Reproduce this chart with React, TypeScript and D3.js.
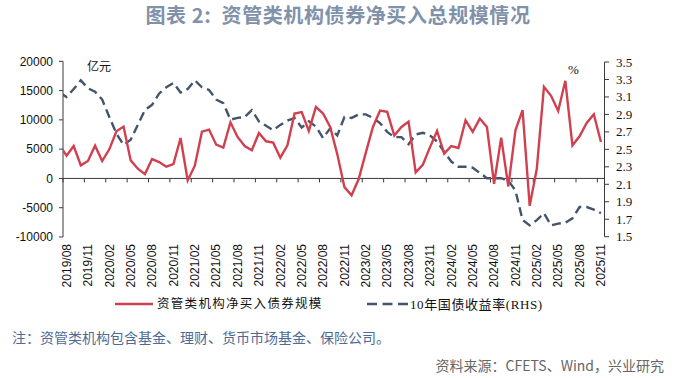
import React from 'react';
import * as d3 from 'd3';

// Monthly categories (first month lies just left of the axis and is clipped, as in the source)
const months: string[] = [
  '2019/07','2019/08','2019/09','2019/10','2019/11','2019/12',
  '2020/01','2020/02','2020/03','2020/04','2020/05','2020/06','2020/07','2020/08','2020/09','2020/10','2020/11','2020/12',
  '2021/01','2021/02','2021/03','2021/04','2021/05','2021/06','2021/07','2021/08','2021/09','2021/10','2021/11','2021/12',
  '2022/01','2022/02','2022/03','2022/04','2022/05','2022/06','2022/07','2022/08','2022/09','2022/10','2022/11','2022/12',
  '2023/01','2023/02','2023/03','2023/04','2023/05','2023/06','2023/07','2023/08','2023/09','2023/10','2023/11','2023/12',
  '2024/01','2024/02','2024/03','2024/04','2024/05','2024/06','2024/07','2024/08','2024/09','2024/10','2024/11','2024/12',
  '2025/01','2025/02','2025/03','2025/04','2025/05','2025/06','2025/07','2025/08','2025/09','2025/10','2025/11'
];

// 资管类机构净买入债券规模 (亿元)
const netBuy: number[] = [
  5700, 3900, 5540, 2230, 2970, 5600,
  2970, 4970, 8050, 8850, 3080, 1660, 740, 3310, 2800, 2000, 2450, 6910,
  -340, 2170, 7990, 8340, 5770, 5250, 9590, 7080, 5540, 4800, 7770, 6340,
  6110, 3540, 5650, 11080, 11310, 8110, 12220, 11080, 8790, 4110, -1490, -2860,
  -110, 4400, 8790, 11590, 11360, 7310, 8790, 9710, 1030, 2340, 5310, 8110,
  4230, 5540, 5200, 9940, 7940, 10220, 8790, -910, 6970, -1370, 8220, 11650,
  -4680, 1660, 15650, 14100, 11530, 16670, 5650, 7200, 9480, 10960, 6220
];

// 10年国债收益率 (%)
const yield10y: number[] = [
  3.15, 3.10, 3.19, 3.29, 3.20, 3.16,
  3.07, 2.87, 2.68, 2.55, 2.61, 2.78, 2.95, 3.01, 3.14, 3.21, 3.26, 3.15,
  3.19, 3.29, 3.21, 3.18, 3.07, 3.03, 2.84, 2.86, 2.87, 2.95, 2.82, 2.77,
  2.72, 2.78, 2.83, 2.86, 2.75, 2.82, 2.76, 2.63, 2.74, 2.66, 2.87, 2.86,
  2.90, 2.90, 2.86, 2.80, 2.70, 2.64, 2.64, 2.56, 2.67, 2.69, 2.66, 2.59,
  2.47, 2.36, 2.30, 2.30, 2.29, 2.23, 2.17, 2.17, 2.17, 2.14, 2.03, 1.69,
  1.63, 1.69, 1.77, 1.63, 1.65, 1.66, 1.71, 1.84, 1.84, 1.81, 1.77
];

const leftTicks: number[] = [-10000, -5000, 0, 5000, 10000, 15000, 20000];
const rightTicks: number[] = [1.5, 1.7, 1.9, 2.1, 2.3, 2.5, 2.7, 2.9, 3.1, 3.3, 3.5];
const tickLabels: string[] = [
  '2019/08','2019/11','2020/02','2020/05','2020/08','2020/11','2021/02','2021/05','2021/08','2021/11',
  '2022/02','2022/05','2022/08','2022/11','2023/02','2023/05','2023/08','2023/11',
  '2024/02','2024/05','2024/08','2024/11','2025/02','2025/05','2025/08','2025/11'
];

const title = '图表 2:  资管类机构债券净买入总规模情况';
const legendRed = '资管类机构净买入债券规模';
const legendBlue = '10年国债收益率(RHS)';
const note = '注：资管类机构包含基金、理财、货币市场基金、保险公司。';
const source = '资料来源：CFETS、Wind，兴业研究';

const RED = '#d1404f';
const BLUE = '#44546a';
const AXIS = '#3a3a3a';

export default function App() {
  const W = 676, H = 378;
  const left = 63, right = 604.5, top = 61.3, bottom = 237;
  const w = (right - left) / (months.length - 1);
  const x = d3.scaleBand<string>().domain(months).range([left - w, right]).padding(0);
  const cx = (m: string) => (x(m) as number) + x.bandwidth() / 2;
  const yL = d3.scaleLinear().domain([-10000, 20000]).range([bottom, top]);
  const yR = d3.scaleLinear().domain([1.5, 3.5]).range([236.7, 62]);

  const redPath = d3.line<number>().x((_, i) => cx(months[i])).y((d) => yL(d))(netBuy) || '';
  const bluePath = d3.line<number>().x((_, i) => cx(months[i])).y((d) => yR(d))(yield10y) || '';

  const y0 = yL(0);
  const tickXs = months
    .map((m, i) => ({ m, i }))
    .filter(({ i }) => i >= 1 && (i - 1) % 3 === 0)
    .map(({ m }) => x(m) as number);

  const cjk = '"Noto Sans CJK SC", sans-serif';

  return (
    <svg width={W} height={H} style={{ position: 'absolute', left: 0, top: 0, background: '#fff' }}>
      <defs>
        <clipPath id="plotClip">
          <rect x={left} y={40} width={right - left + 6} height={220} />
        </clipPath>
      </defs>
      <text x={338} y={23} textAnchor="middle" fontFamily={cjk} fontWeight="bold" fontSize={20} letterSpacing={0.6}
        fill="#8091aa" style={{ whiteSpace: 'pre' }}>
        {title}
      </text>

      {/* left axis */}
      <line x1={left} x2={left} y1={top} y2={bottom} stroke={AXIS} strokeWidth={1} />
      {leftTicks.map((t) => (
        <g key={'l' + t}>
          <line x1={left - 4} x2={left} y1={yL(t)} y2={yL(t)} stroke={AXIS} />
          <text x={53} y={yL(t)} dy="0.35em" textAnchor="end" fontFamily="'Liberation Sans', Arial, sans-serif" fontSize={12} fill="#111">
            {t}
          </text>
        </g>
      ))}
      <text x={87} y={67} dy="0.35em" fontFamily={cjk} fontSize={12} fill="#111">亿元</text>

      {/* right axis */}
      <line x1={right} x2={right} y1={yR(3.5)} y2={yR(1.5)} stroke={AXIS} strokeWidth={1} />
      {rightTicks.map((t) => (
        <g key={'r' + t}>
          <line x1={right} x2={right + 4.5} y1={yR(t)} y2={yR(t)} stroke={AXIS} />
          <text x={616} y={yR(t)} dy="0.35em" fontFamily="'Liberation Serif', 'Times New Roman', serif" fontSize={13} fill="#111">
            {t.toFixed(1)}
          </text>
        </g>
      ))}
      <text x={568} y={69} dy="0.35em" fontFamily="'Liberation Serif', serif" fontSize={13} fill="#111">%</text>

      {/* x axis at zero */}
      <line x1={left} x2={right} y1={y0} y2={y0} stroke={AXIS} strokeWidth={1} />
      {tickXs.map((tx, k) => (
        <line key={'xt' + k} x1={tx} x2={tx} y1={y0} y2={y0 + 4} stroke={AXIS} />
      ))}
      {tickLabels.map((lab) => {
        const px = cx(lab);
        return (
          <text key={'xl' + lab} transform={`translate(${px},244) rotate(-90)`} dy="0.35em" textAnchor="end"
            fontFamily="'Liberation Sans', Arial, sans-serif" fontSize={12} fill="#111">
            {lab}
          </text>
        );
      })}

      {/* series */}
      <g clipPath="url(#plotClip)">
        <path d={bluePath} fill="none" stroke={BLUE} strokeWidth={2.4} strokeDasharray="9,5" />
        <path d={redPath} fill="none" stroke={RED} strokeWidth={2.4} strokeLinejoin="miter" />
      </g>

      {/* legend */}
      <line x1={115} x2={153} y1={304} y2={304} stroke={RED} strokeWidth={2.6} />
      <text x={157} y={304} dy="0.35em" fontFamily={cjk} fontSize={12.5} letterSpacing={1.3} fill="#111">
        {legendRed}
      </text>
      <line x1={367} x2={408} y1={304} y2={304} stroke={BLUE} strokeWidth={2.6} strokeDasharray="10,5.5" />
      <text x={410} y={304} dy="0.35em" fontFamily={`'Liberation Serif', ${cjk}`} fontSize={13} letterSpacing={0.6} fill="#111">
        {legendBlue}
      </text>

      {/* footer */}
      <text x={12} y={338} dy="0.35em" fontFamily={cjk} fontSize={14} fill="#4e6b95">{note}</text>
      <text x={664} y={366} dy="0.35em" textAnchor="end" fontFamily={cjk} fontSize={14} fill="#666">{source}</text>
    </svg>
  );
}
